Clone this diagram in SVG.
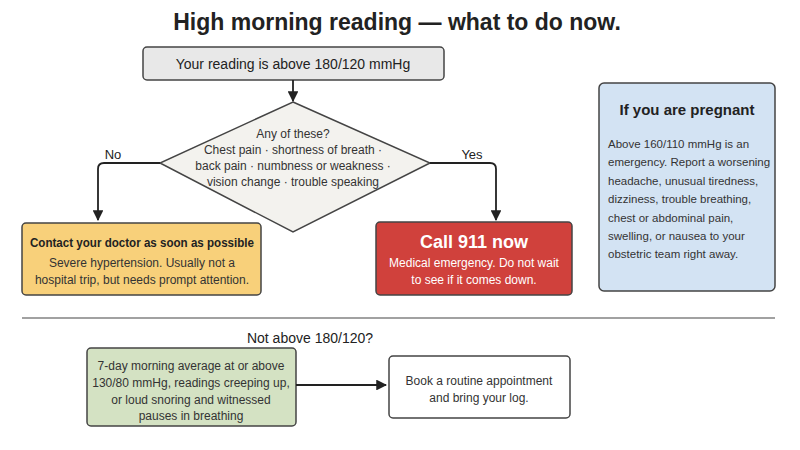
<svg xmlns="http://www.w3.org/2000/svg" width="800" height="450" viewBox="0 0 800 450">
<style>
text{font-family:"Liberation Sans",Arial,sans-serif;fill:#333;text-anchor:middle}
.b{stroke:#444;stroke-width:1.5}
.t{font-size:12px}
.p{font-size:11.5px;text-anchor:start}
.c{fill:none;stroke:#222;stroke-width:1.8}
</style>
<defs><marker id="a" viewBox="0 0 10 10" refX="9" refY="5" markerWidth="6" markerHeight="6" orient="auto"><path d="M0,0L10,5L0,10z" fill="#222"/></marker></defs>
<rect width="800" height="450" fill="#fff"/>
<text x="397" y="30" style="font-size:23px;font-weight:bold;fill:#222">High morning reading — what to do now.</text>
<g id="start"><rect class="b" x="143" y="47" width="301" height="33" rx="4" fill="#e8e8e8"/><text x="293" y="69" style="font-size:14px;fill:#222">Your reading is above 180/120 mmHg</text></g>
<g id="decision"><polygon class="b" points="293,102 430,163 293,232 160,163" fill="#f3f2ee"/>
<text class="t" x="293" y="138">Any of these?</text><text class="t" x="293" y="154">Chest pain · shortness of breath ·</text><text class="t" x="293" y="170">back pain · numbness or weakness ·</text><text class="t" x="293" y="186">vision change · trouble speaking</text></g>
<g id="doctor"><rect class="b" x="22" y="223" width="239" height="72" rx="4" fill="#f8d07a"/><text x="142" y="247" textLength="224" lengthAdjust="spacingAndGlyphs" style="font-size:13.5px;font-weight:bold;fill:#222">Contact your doctor as soon as possible</text><text class="t" x="142" y="267">Severe hypertension. Usually not a</text><text class="t" x="142" y="284">hospital trip, but needs prompt attention.</text></g>
<g id="call"><rect class="b" x="376" y="222" width="196" height="73" rx="4" fill="#d0413c"/><text x="474" y="248" style="font-size:18px;font-weight:bold;fill:#fff">Call 911 now</text><text class="t" x="474" y="267" style="fill:#fff">Medical emergency. Do not wait</text><text class="t" x="474" y="284" style="fill:#fff">to see if it comes down.</text></g>
<g id="pregnant"><rect class="b" x="599" y="83" width="176" height="208" rx="5" fill="#d3e3f3"/><text x="687" y="115" style="font-size:15px;font-weight:bold;fill:#222">If you are pregnant</text>
<text class="p" x="608" y="148">Above 160/110 mmHg is an</text><text class="p" x="608" y="166">emergency. Report a worsening</text><text class="p" x="608" y="185">headache, unusual tiredness,</text><text class="p" x="608" y="203">dizziness, trouble breathing,</text><text class="p" x="608" y="222">chest or abdominal pain,</text><text class="p" x="608" y="240">swelling, or nausea to your</text><text class="p" x="608" y="258">obstetric team right away.</text></g>
<line x1="22" y1="318" x2="775" y2="318" stroke="#444" stroke-width="1.2"/>
<text x="310" y="343" style="font-size:14px;fill:#222">Not above 180/120?</text>
<g id="average"><rect class="b" x="87" y="348" width="209" height="78" rx="4" fill="#d4e2c3"/><text class="t" x="191" y="370">7-day morning average at or above</text><text class="t" x="191" y="387">130/80 mmHg, readings creeping up,</text><text class="t" x="191" y="404">or loud snoring and witnessed</text><text class="t" x="191" y="420">pauses in breathing</text></g>
<g id="routine"><rect class="b" x="389" y="356" width="181" height="62" rx="4" fill="#fff"/><text class="t" x="479" y="385">Book a routine appointment</text><text class="t" x="479" y="402">and bring your log.</text></g>
<g id="connectors">
<path class="c" d="M293,80V101" marker-end="url(#a)"/>
<path class="c" d="M160,163H104Q98,163 98,169V220" marker-end="url(#a)"/>
<path class="c" d="M430,163H490Q496,163 496,169V220" marker-end="url(#a)"/>
<path class="c" d="M296,385H386" marker-end="url(#a)"/>
<text x="113" y="159" style="font-size:13px;fill:#222">No</text>
<text x="472" y="159" style="font-size:13px;fill:#222">Yes</text>
</g>
</svg>
